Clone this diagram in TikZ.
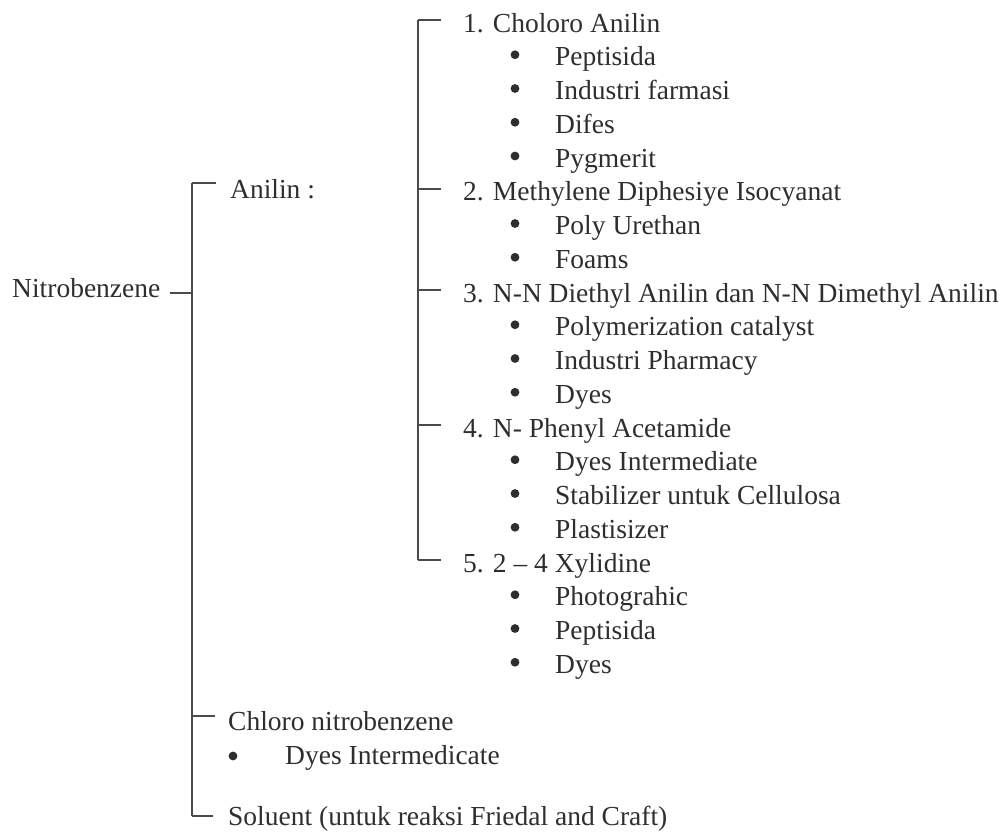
\documentclass[tikz,border=0pt]{standalone}
\usepackage{fontspec}
\setmainfont{Liberation Serif}
\definecolor{ink}{HTML}{2E2E2E}
\definecolor{rule}{HTML}{4A4A4A}
\begin{document}
\begin{tikzpicture}[x=1pt,y=-1pt,
  txt/.style={anchor=base west,inner sep=0pt,text=ink,font=\fontsize{27.5}{33}\selectfont},
  ln/.style={draw=rule,line width=2pt},
  dot/.style={fill=ink}]
\useasboundingbox (0,0) rectangle (1000,833);
% level 1
\node[txt] (nitro) at (12,297) {Nitrobenzene};
\coordinate (nstub) at (170,293);
\coordinate (b1top) at (192,183);
\coordinate (b1bot) at (192,816);
\draw[ln] (b1top) -- (b1bot);
\draw[ln] (nstub) -- (nstub -| b1top);
% level 2 entries
\coordinate (tA) at (216,183);
\coordinate (tC) at (215,716);
\coordinate (tS) at (213,816);
\draw[ln] (tA -| b1top) -- (tA);
\draw[ln] (tC -| b1top) -- (tC);
\draw[ln] (tS -| b1top) -- (tS);
\node[txt] (anilin) at (230,198) {Anilin :};
\node[txt] (chloro) at (228,730) {Chloro nitrobenzene};
\fill[dot] (233,756) circle (4.4);
\node[txt] (dyint) at (285,764) {Dyes Intermedicate};
\node[txt] (soluent) at (228,825) {Soluent (untuk reaksi Friedal and Craft)};
% level 3 bracket
\coordinate (b2top) at (418,20);
\coordinate (b2bot) at (418,560);
\draw[ln] (b2top) -- (b2bot);
\foreach \k/\n/\t in {0/i1/1. Choloro Anilin,
                      5/i2/2. Methylene Diphesiye Isocyanat,
                      8/i3/3. N-N Diethyl Anilin dan N-N Dimethyl Anilin,
                      12/i4/4. N- Phenyl Acetamide,
                      16/i5/5. 2 – 4 Xylidine} {
  \coordinate (t\n) at (441,{20+33.75*\k});
  \draw[ln] (t\n -| b2top) -- (t\n);
  \node[txt] (\n) at (463,{20+33.75*\k+12}) {\t};
}
\foreach \k/\t in {1/Peptisida, 2/Industri farmasi, 3/Difes, 4/Pygmerit,
                   6/Poly Urethan, 7/Foams,
                   9/Polymerization catalyst, 10/Industri Pharmacy, 11/Dyes,
                   13/Dyes Intermediate, 14/Stabilizer untuk Cellulosa, 15/Plastisizer,
                   17/Photograhic, 18/Peptisida, 19/Dyes} {
  \fill[dot] (515,{20+33.75*\k+1}) circle (4.4);
  \node[txt] (u\k) at (555,{20+33.75*\k+12}) {\t};
}
\end{tikzpicture}
\end{document}
